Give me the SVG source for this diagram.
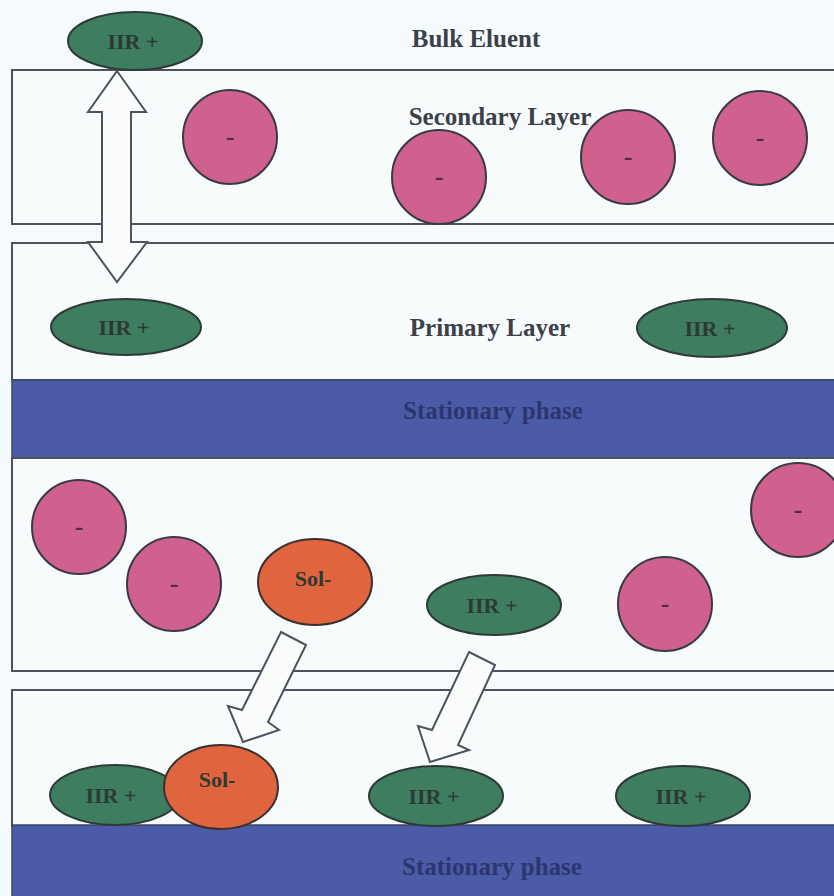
<svg xmlns="http://www.w3.org/2000/svg" width="834" height="896" viewBox="0 0 834 896">
<style>
.box{fill:#f7fbfc;stroke:#4d525c;stroke-width:2}
.sp{fill:#4b5ba8;stroke:#3d4560;stroke-width:1.5}
.neg{fill:#d0608e;stroke:#3a3a44;stroke-width:2}
.pos{fill:#3f7d61;stroke:#2e3a36;stroke-width:2}
.sol{fill:#e0653f;stroke:#3a3030;stroke-width:2}
.arr{fill:#fbfdfd;stroke:#4d525c;stroke-width:2;stroke-linejoin:miter}
text{font-family:"Liberation Serif","Times New Roman",serif;font-weight:bold;text-anchor:middle;dominant-baseline:central}
.lbl{font-size:25px;fill:#3c4049}
.in{font-size:22px;fill:#2c3a34}
.mn{font-size:26px;fill:#4a3040}
.spt{font-size:25px;fill:#2c366e}
</style>
<rect width="834" height="896" fill="#f5fafc"/>
<g id="bulk-eluent-label"><text class="lbl" x="476" y="38">Bulk Eluent</text></g>
<g id="secondary-layer">
<rect class="box" x="12" y="70" width="830" height="154"/>
<text class="lbl" x="500" y="116">Secondary Layer</text>
</g>
<g id="primary-layer">
<rect class="box" x="12" y="243" width="830" height="137"/>
<text class="lbl" x="490" y="327">Primary Layer</text>
</g>
<g id="stationary-phase-1">
<rect class="sp" x="12" y="380" width="830" height="78"/>
<text class="spt" x="493" y="410">Stationary phase</text>
</g>
<g id="mobile-region">
<rect class="box" x="12" y="458" width="830" height="213"/>
</g>
<g id="adsorbed-layer">
<rect class="box" x="12" y="690" width="830" height="136"/>
</g>
<g id="stationary-phase-2">
<rect class="sp" x="12" y="825" width="830" height="80"/>
<text class="spt" x="492" y="866">Stationary phase</text>
</g>
<g id="neg-s1"><circle class="neg" cx="230" cy="137" r="47"/><text class="mn" x="230" y="136">-</text></g>
<g id="neg-s2"><circle class="neg" cx="439" cy="177" r="47"/><text class="mn" x="439" y="176">-</text></g>
<g id="neg-s3"><circle class="neg" cx="628" cy="157" r="47"/><text class="mn" x="628" y="156">-</text></g>
<g id="neg-s4"><circle class="neg" cx="760" cy="138" r="47"/><text class="mn" x="760" y="137">-</text></g>
<g id="iir-bulk"><ellipse class="pos" cx="135" cy="41" rx="67" ry="29"/><text class="in" x="133" y="41">IIR +</text></g>
<g id="iir-p1"><ellipse class="pos" cx="126" cy="327" rx="75" ry="28"/><text class="in" x="124" y="327">IIR +</text></g>
<g id="iir-p2"><ellipse class="pos" cx="712" cy="328" rx="75" ry="29"/><text class="in" x="710" y="328">IIR +</text></g>
<g id="neg-m1"><circle class="neg" cx="79" cy="527" r="47"/><text class="mn" x="79" y="526">-</text></g>
<g id="neg-m2"><circle class="neg" cx="174" cy="584" r="47"/><text class="mn" x="174" y="583">-</text></g>
<g id="sol-m"><ellipse class="sol" cx="315" cy="582" rx="57" ry="43"/><text class="in" x="313" y="578">Sol-</text></g>
<g id="iir-m"><ellipse class="pos" cx="494" cy="605" rx="67" ry="30"/><text class="in" x="492" y="605">IIR +</text></g>
<g id="neg-m3"><circle class="neg" cx="665" cy="604" r="47"/><text class="mn" x="665" y="603">-</text></g>
<g id="neg-m4"><circle class="neg" cx="798" cy="510" r="47"/><text class="mn" x="798" y="509">-</text></g>
<g id="iir-a1"><ellipse class="pos" cx="115" cy="795" rx="65" ry="30"/><text class="in" x="111" y="795">IIR +</text></g>
<g id="sol-a"><ellipse class="sol" cx="221" cy="787" rx="57" ry="42"/><text class="in" x="217" y="779">Sol-</text></g>
<g id="iir-a2"><ellipse class="pos" cx="436" cy="796" rx="67" ry="30"/><text class="in" x="434" y="796">IIR +</text></g>
<g id="iir-a3"><ellipse class="pos" cx="683" cy="796" rx="67" ry="30"/><text class="in" x="681" y="796">IIR +</text></g>
<g id="connectors">
<polygon class="arr" points="117,71 146,112 131,112 131,242 147,242 117,282 88,242 102,242 102,112 88,112"/>
<polygon class="arr" points="281,632 306,645 268,722 279,730 243,742 228,706 242,710"/>
<polygon class="arr" points="469,652 495,665 458,745 469,750 430,762 418,726 432,730"/>
</g>
</svg>
